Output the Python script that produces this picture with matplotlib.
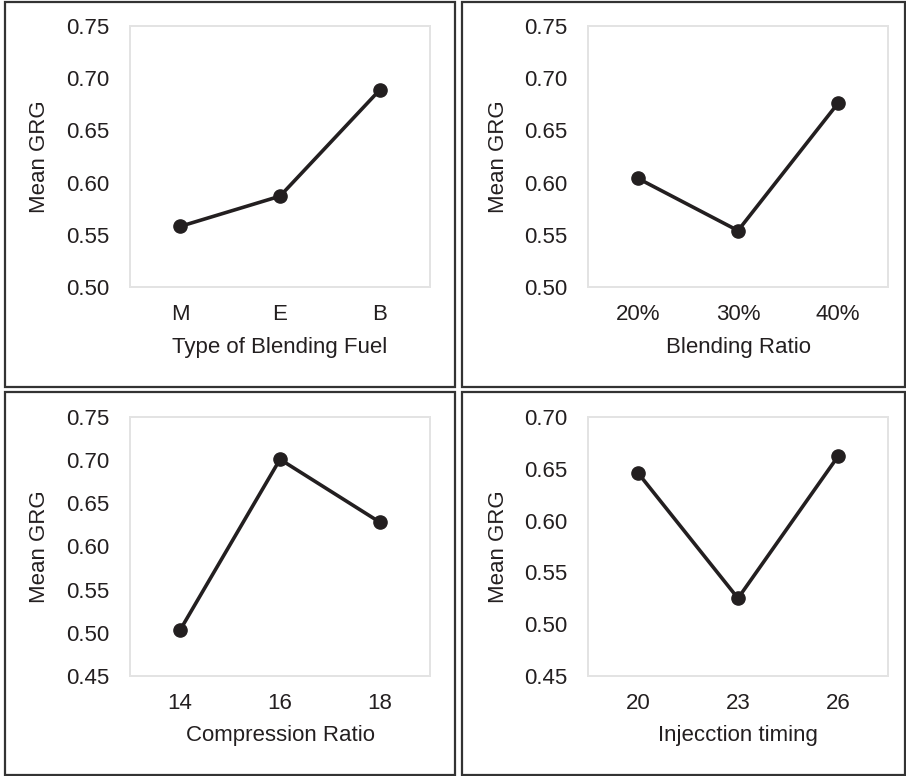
# plot.py
# Mean GRG main-effect plots (4 panels), each panel boxed.

import matplotlib.pyplot as plt
from matplotlib.patches import Rectangle

W, H = 906, 776

fuel_labels = ["M", "E", "B"]
fuel_grg = [0.558, 0.587, 0.689]

ratio_labels = ["20%", "30%", "40%"]
ratio_grg = [0.604, 0.554, 0.676]

cr_labels = ["14", "16", "18"]
cr_grg = [0.503, 0.701, 0.628]

it_labels = ["20", "23", "26"]
it_grg = [0.646, 0.525, 0.662]

panels = [
    # labels, values, xlabel, ylim, yticks, axes box (px), frame box (px)
    (fuel_labels, fuel_grg, "Type of Blending Fuel", (0.50, 0.75),
     [0.50, 0.55, 0.60, 0.65, 0.70, 0.75], (130, 26, 430, 287), (5, 2, 455, 387)),
    (ratio_labels, ratio_grg, "Blending Ratio", (0.50, 0.75),
     [0.50, 0.55, 0.60, 0.65, 0.70, 0.75], (588, 26, 888, 287), (462, 2, 905, 387)),
    (cr_labels, cr_grg, "Compression Ratio", (0.45, 0.75),
     [0.45, 0.50, 0.55, 0.60, 0.65, 0.70, 0.75], (130, 417, 430, 676), (5, 392, 455, 775)),
    (it_labels, it_grg, "Injecction timing", (0.45, 0.70),
     [0.45, 0.50, 0.55, 0.60, 0.65, 0.70], (588, 417, 888, 676), (462, 392, 905, 775)),
]

plt.rcParams["font.family"] = ["Liberation Sans", "DejaVu Sans"]

fig = plt.figure(figsize=(W / 100, H / 100), dpi=100)
line_col = "#231f20"
text_col = "#231f20"

for labels, vals, xlab, ylim, yticks, box, frame in panels:
    x0, y0, x1, y1 = box
    ax = fig.add_axes([x0 / W, 1 - y1 / H, (x1 - x0) / W, (y1 - y0) / H])
    xs = list(range(len(labels)))
    ax.plot(xs, vals, color=line_col, lw=2.6, marker="o", ms=9.5,
            markerfacecolor=line_col, markeredgecolor=line_col)
    ax.set_xlim(-0.5, len(labels) - 0.5)
    ax.set_ylim(*ylim)
    ax.set_xticks(xs)
    ax.set_xticklabels(labels)
    ax.set_yticks(yticks)
    ax.set_yticklabels([f"{t:.2f}" for t in yticks])
    ax.tick_params(length=0, labelsize=16, colors=text_col)
    ax.tick_params(axis="y", pad=15)
    ax.tick_params(axis="x", pad=12)
    for sp in ax.spines.values():
        sp.set_color("#e3e3e3")
        sp.set_linewidth(1.4)

    ax.set_xlabel(xlab, fontsize=16, color=text_col)
    ax.set_ylabel("Mean GRG", fontsize=16, color=text_col)
    ax.xaxis.label.set_va("center")
    ax.yaxis.label.set_va("center")
    ax.xaxis.set_label_coords(0.5, -(60 / (y1 - y0)))
    ax.yaxis.set_label_coords(-(90 / (x1 - x0)), 0.5)

    fx0, fy0, fx1, fy1 = frame
    fig.patches.append(Rectangle((fx0 / W, 1 - fy1 / H), (fx1 - fx0) / W,
                                 (fy1 - fy0) / H, transform=fig.transFigure,
                                 fill=False, edgecolor="#333333", lw=1.6))

fig.savefig("out.png", dpi=100)
